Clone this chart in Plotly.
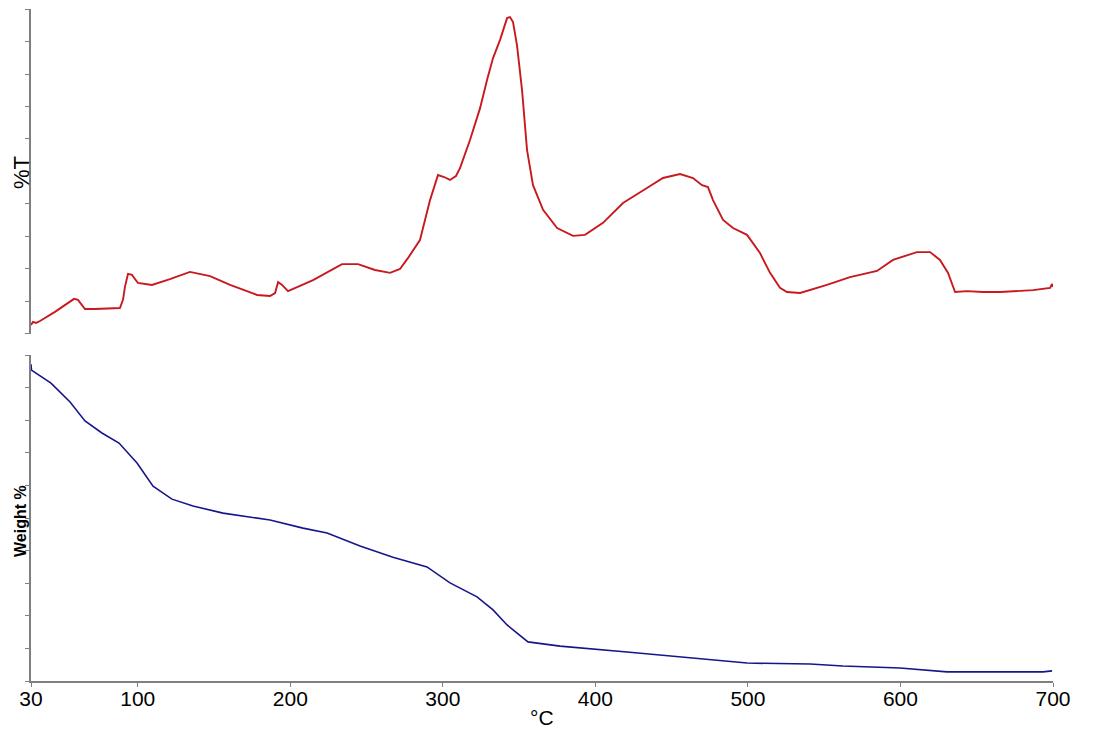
import plotly.graph_objects as go

# %T (FTIR-like / DTA trace), arbitrary units 0-100
temp_t = [30.0, 31.3, 33.3, 35.9, 45.7, 54.3, 58.2, 60.8, 65.4, 72.0, 88.3, 90.3, 91.6, 93.6,
          96.2, 100.1, 109.3, 121.1, 134.2, 147.4, 160.5, 178.2, 186.7, 190.0, 192.0, 194.6,
          198.5, 214.9, 226.0, 233.9, 244.4, 255.5, 265.4, 271.9, 277.2, 285.0, 291.6, 296.8,
          300.8, 304.7, 308.6, 311.3, 317.8, 324.4, 329.0, 332.9, 337.5, 342.1, 344.0, 346.0,
          348.6, 351.9, 355.2, 359.1, 365.7, 374.9, 385.3, 393.2, 405.0, 418.1, 433.8, 444.3,
          455.5, 464.0, 469.9, 473.8, 477.1, 483.7, 490.2, 499.4, 507.9, 514.5, 521.0, 525.6,
          534.2, 551.8, 566.9, 584.6, 595.1, 603.0, 610.8, 619.4, 625.9, 631.2, 635.8, 643.6,
          654.1, 665.3, 686.9, 698.1, 699.4, 700.0]
trans = [2.8, 3.7, 3.4, 4.0, 6.8, 9.5, 10.8, 10.5, 7.7, 7.7, 8.0, 10.5, 14.5, 18.5,
         18.2, 15.7, 15.1, 16.9, 19.1, 17.8, 15.1, 12.0, 11.7, 12.6, 16.0, 15.1,
         13.2, 16.6, 19.4, 21.5, 21.5, 19.7, 18.8, 20.0, 23.4, 28.9, 41.2, 48.9,
         48.3, 47.4, 48.6, 51.1, 59.7, 69.5, 78.2, 84.9, 90.5, 97.2, 97.5, 96.0,
         88.9, 75.1, 56.6, 45.8, 38.2, 32.6, 30.2, 30.5, 34.2, 40.3, 44.9, 48.0,
         49.2, 48.0, 45.8, 45.2, 41.2, 35.1, 32.6, 30.5, 24.9, 18.8, 14.2, 12.9,
         12.6, 15.1, 17.5, 19.4, 22.8, 24.0, 25.2, 25.2, 22.8, 18.8, 12.9, 13.2,
         12.9, 12.9, 13.5, 14.2, 15.4, 14.5]

# Weight % (TGA trace), normalised 0-100
temp_w = [30.0, 30.3, 43.1, 55.6, 65.4, 76.5, 87.7, 99.5, 110.0, 122.4, 136.2, 155.9, 186.7,
          208.3, 224.1, 245.7, 267.3, 289.6, 304.7, 322.4, 332.9, 342.1, 355.8, 376.8,
          420.7, 453.5, 481.7, 499.4, 540.7, 562.3, 599.7, 630.5, 665.3, 693.5, 699.4]
weight = [97.2, 95.4, 91.4, 85.6, 79.8, 76.1, 73.0, 66.9, 59.8, 55.8, 53.7, 51.5, 49.4,
          46.9, 45.4, 41.4, 38.0, 35.0, 30.1, 25.8, 21.8, 17.2, 12.0, 10.7,
          8.9, 7.4, 6.1, 5.5, 5.2, 4.6, 4.0, 2.8, 2.8, 2.8, 3.1]

x_ticks = [30, 100, 200, 300, 400, 500, 600, 700]

axis_col = "#7f7f7f"
font_fam = "Liberation Sans, Arial, sans-serif"

fig = go.Figure()
fig.add_trace(go.Scatter(x=temp_t, y=trans, mode="lines",
                         line=dict(color="#c8191e", width=1.9), xaxis="x2", yaxis="y2",
                         showlegend=False))
fig.add_trace(go.Scatter(x=temp_w, y=weight, mode="lines",
                         line=dict(color="#16168c", width=1.6), xaxis="x", yaxis="y",
                         showlegend=False))

fig.update_layout(
    width=1093, height=731,
    margin=dict(l=23, r=48, t=1, b=58),
    paper_bgcolor="white", plot_bgcolor="white",
    font=dict(family=font_fam, color="black"),
    xaxis=dict(domain=[0, 1], anchor="y", range=[30, 700], tickvals=x_ticks,
               ticktext=[str(v) for v in x_ticks], ticks="outside", ticklen=4,
               ticklabelstandoff=-6,
               tickcolor=axis_col, showline=True, linecolor=axis_col, linewidth=1.5,
               showgrid=False, zeroline=False, tickfont=dict(size=21, color="black")),
    yaxis=dict(domain=[0, 0.485], anchor="x", range=[0, 100], dtick=10,
               ticks="outside", ticklen=4, tickcolor=axis_col, showticklabels=False,
               showline=True, linecolor=axis_col, linewidth=1.5, showgrid=False,
               zeroline=False),
    xaxis2=dict(domain=[0, 1], anchor="y2", matches="x", range=[30, 700],
                showticklabels=False, ticks="", showline=False, showgrid=False,
                zeroline=False),
    yaxis2=dict(domain=[0.5164, 1], anchor="x2", range=[0, 100], dtick=10,
                ticks="outside", ticklen=4, tickcolor=axis_col, showticklabels=False,
                showline=True, linecolor=axis_col, linewidth=1.5, showgrid=False,
                zeroline=False),
    annotations=[
        dict(text="%T", xref="paper", yref="paper", x=-0.0098, y=0.7574,
             xanchor="center", yanchor="middle", textangle=-90, showarrow=False,
             borderpad=0, font=dict(size=22, family=font_fam, color="black")),
        dict(text="<b>Weight %</b>", xref="paper", yref="paper", x=-0.0108, y=0.238,
             xanchor="center", yanchor="middle", textangle=-90, showarrow=False,
             borderpad=0, font=dict(size=16, family=font_fam, color="black")),
        dict(text="°C", xref="paper", yref="paper", x=0.5, y=-0.0536,
             xanchor="center", yanchor="middle", showarrow=False,
             font=dict(size=21, family=font_fam, color="black")),
    ],
)

fig.write_html("out.html")
